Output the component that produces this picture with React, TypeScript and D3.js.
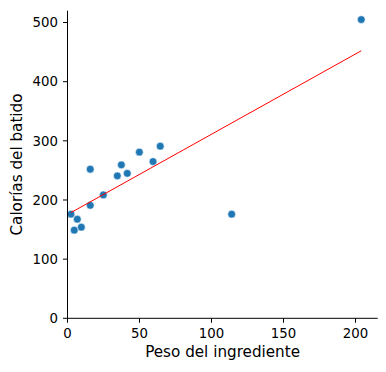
import React from "react";
import { scaleLinear, line } from "d3";

// peso del ingrediente (x) y calorías del batido (y)
const pesos = [2.4, 4.7, 6.8, 9.6, 15.8, 15.8, 24.9, 34.6, 37.4, 41.5, 49.9, 59.4, 64.4, 114, 204];
const calorias = [176, 149, 167.5, 154, 191, 252, 208.6, 240.8, 259.4, 245, 280.9, 265, 291, 176, 505];
const xTicks = [0, 50, 100, 150, 200];
const yTicks = [0, 100, 200, 300, 400, 500];

const W = 386;
const H = 372;
const left = 67.5;
const right = 377.7;
const top = 10.7;
const bottom = 318.3;

// recta de mínimos cuadrados
const fit = () => {
  const n = pesos.length;
  const mx = pesos.reduce((a, b) => a + b, 0) / n;
  const my = calorias.reduce((a, b) => a + b, 0) / n;
  let sxy = 0, sxx = 0;
  pesos.forEach((x, i) => {
    sxy += (x - mx) * (calorias[i] - my);
    sxx += (x - mx) * (x - mx);
  });
  const m = sxy / sxx;
  return { m, b: my - m * mx };
};

export default function App() {
  const x = scaleLinear().domain([0, 215.4]).range([left, right]);
  const y = scaleLinear().domain([0, 520]).range([bottom, top]);
  const { m, b } = fit();
  const xmin = Math.min(...pesos);
  const xmax = Math.max(...pesos);
  const reg = line<number>()
    .x((d) => x(d))
    .y((d) => y(m * d + b));
  const font = "DejaVu Sans, sans-serif";

  return (
    <svg width={W} height={H} style={{ position: "absolute", left: 0, top: 0 }}>
      <rect width={W} height={H} fill="#fff" />
      {pesos.map((p, i) => (
        <circle key={i} cx={x(p)} cy={y(calorias[i])} r={3.9} fill="#1f77b4" stroke="#fff" strokeWidth={0.6} />
      ))}
      <path d={reg([xmin, xmax]) || ""} fill="none" stroke="red" strokeWidth={1} />

      {/* ejes */}
      <line x1={left} x2={left} y1={top} y2={bottom} stroke="#000" strokeWidth={1} />
      <line x1={left} x2={right} y1={bottom} y2={bottom} stroke="#000" strokeWidth={1} />
      {xTicks.map((t) => (
        <g key={t}>
          <line x1={x(t)} x2={x(t)} y1={bottom} y2={bottom + 4.5} stroke="#000" />
          <text x={x(t)} y={338} textAnchor="middle" fontFamily={font} fontSize={13.3} fill="#000">
            {t}
          </text>
        </g>
      ))}
      {yTicks.map((t) => (
        <g key={t}>
          <line x1={left - 4.5} x2={left} y1={y(t)} y2={y(t)} stroke="#000" />
          <text x={58} y={y(t) + 4.8} textAnchor="end" fontFamily={font} fontSize={13.3} fill="#000">
            {t}
          </text>
        </g>
      ))}
      <text x={(left + right) / 2} y={357} textAnchor="middle" fontFamily={font} fontSize={15.2} fill="#000">
        Peso del ingrediente
      </text>
      <text
        transform={`translate(22,${(top + bottom) / 2}) rotate(-90)`}
        textAnchor="middle"
        fontFamily={font}
        fontSize={15.2}
        fill="#000"
      >
        Calorías del batido
      </text>
    </svg>
  );
}
